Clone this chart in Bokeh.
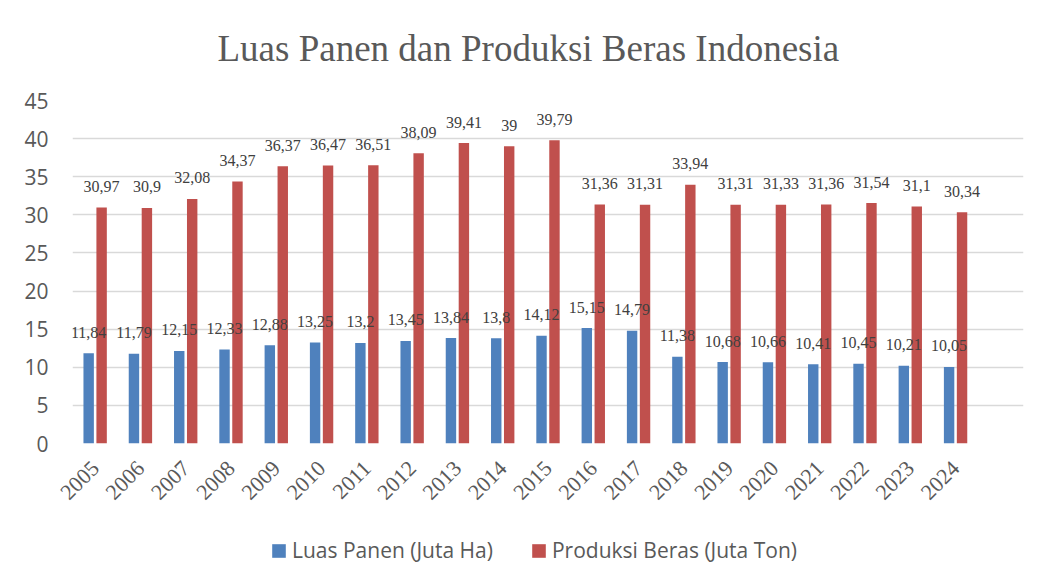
from bokeh.plotting import figure
from bokeh.models import (ColumnDataSource, FactorRange, Legend, LegendItem, FixedTicker,
                          Range1d, Label)
from bokeh.layouts import column
from bokeh.transform import dodge
from bokeh.core.properties import value
from bokeh.embed import file_html
from bokeh.resources import INLINE
import math

title_text = "Luas Panen dan Produksi Beras Indonesia"
years = ["2005", "2006", "2007", "2008", "2009", "2010", "2011", "2012", "2013", "2014",
         "2015", "2016", "2017", "2018", "2019", "2020", "2021", "2022", "2023", "2024"]
luas_panen = [11.84, 11.79, 12.15, 12.33, 12.88, 13.25, 13.2, 13.45, 13.84, 13.8,
              14.12, 15.15, 14.79, 11.38, 10.68, 10.66, 10.41, 10.45, 10.21, 10.05]
produksi = [30.97, 30.9, 32.08, 34.37, 36.37, 36.47, 36.51, 38.09, 39.41, 39,
            39.79, 31.36, 31.31, 33.94, 31.31, 31.33, 31.36, 31.54, 31.1, 30.34]
y_ticks = [0, 5, 10, 15, 20, 25, 30, 35, 40, 45]
series_names = ["Luas Panen (Juta Ha)", "Produksi Beras (Juta Ton)"]

def fmt(v):
    return f"{v:g}".replace(".", ",")

src = ColumnDataSource(dict(
    year=years, luas=luas_panen, prod=produksi,
    luas_lbl=[fmt(v) for v in luas_panen],
    prod_lbl=[fmt(v) for v in produksi],
))

BLUE = "#4F81BD"
RED = "#C0504D"
GRID = "#D9D9D9"
W = 1039

def strip(h):
    f = figure(width=W, height=h, output_backend="svg", toolbar_location=None,
               x_range=Range1d(0, 1), y_range=Range1d(0, 1),
               x_axis_location=None, y_axis_location=None,
               min_border_left=0, min_border_right=0, min_border_top=0, min_border_bottom=0)
    f.outline_line_color = None
    f.grid.visible = False
    return f

# title strip
pt = strip(86)
pt.add_layout(Label(x=145, y=38, x_units="screen", y_units="screen", text=title_text,
                    text_font="Liberation Serif", text_font_size="37px",
                    text_color="#595959", text_baseline="alphabetic"))

# main chart
p = figure(x_range=FactorRange(*(years + [" "])), y_range=(0, 45),
           width=W, height=434, output_backend="svg", toolbar_location=None,
           min_border_left=72, min_border_right=16, min_border_top=14, min_border_bottom=77)

p.outline_line_color = None
p.xgrid.grid_line_color = None
p.ygrid.grid_line_color = GRID
p.ygrid.grid_line_width = 1.5
p.yaxis.ticker = FixedTicker(ticks=y_ticks)

for ax in (p.xaxis[0], p.yaxis[0]):
    ax.axis_line_color = None
    ax.major_tick_line_color = None
    ax.minor_tick_line_color = None
    ax.major_tick_out = 0
    ax.major_tick_in = 0
    ax.major_label_text_color = "#595959"

p.yaxis.major_label_text_font = "Open Sans"
p.yaxis.major_label_text_font_size = "21px"
p.yaxis.major_label_standoff = 24

p.xaxis.major_label_text_font = "Liberation Serif"
p.xaxis.major_label_text_font_size = "22px"
p.xaxis.major_label_orientation = math.pi / 4
p.xaxis.major_label_standoff = 21

p.vbar(x=dodge("year", -0.143, range=p.x_range), top="luas", width=0.23,
       source=src, fill_color=BLUE, line_color=None)
p.vbar(x=dodge("year", 0.143, range=p.x_range), top="prod", width=0.23,
       source=src, fill_color=RED, line_color=None)

p.text(x=dodge("year", -0.143, range=p.x_range), y="luas", text="luas_lbl", source=src,
       text_font=value("Liberation Serif"), text_font_size="16px", text_color="#404040",
       text_align="center", text_baseline="alphabetic", y_offset=-21)
p.text(x=dodge("year", 0.143, range=p.x_range), y="prod", text="prod_lbl", source=src,
       text_font=value("Liberation Serif"), text_font_size="16px", text_color="#404040",
       text_align="center", text_baseline="alphabetic", y_offset=-21)

# legend strip below the chart (legend proxies are zero-height bars)
pl = strip(63)
lsrc = ColumnDataSource(dict(x=[0.5], top=[0]))
lr1 = pl.vbar(x="x", top="top", width=0.0, source=lsrc, fill_color=BLUE, line_color=None)
lr2 = pl.vbar(x="x", top="top", width=0.0, source=lsrc, fill_color=RED, line_color=None)
legend = Legend(items=[LegendItem(label=series_names[0], renderers=[lr1]),
                       LegendItem(label=series_names[1], renderers=[lr2])],
                orientation="horizontal", location=(198, 19),
                glyph_width=17, glyph_height=17, label_standoff=5, spacing=37,
                padding=0, margin=0, border_line_color=None, background_fill_alpha=0,
                label_text_font="Open Sans", label_text_font_size="21px",
                label_text_color="#595959")
pl.add_layout(legend, "center")

open("out.html", "w").write(file_html(column(pt, p, pl, spacing=0), INLINE))
